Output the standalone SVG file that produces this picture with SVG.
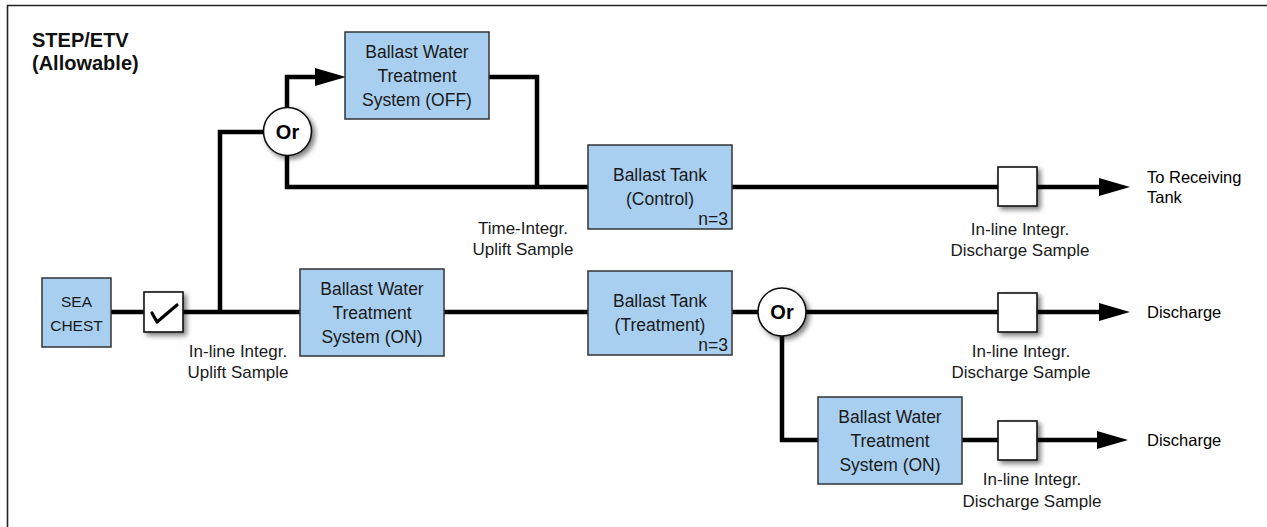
<svg xmlns="http://www.w3.org/2000/svg" width="1267" height="527" viewBox="0 0 1267 527">
<defs>
<style>
.box{fill:#a8cff0;stroke:#333;stroke-width:1.5}
.sq{fill:#fff;stroke:#111;stroke-width:1.6;filter:url(#sh)}
.orc{fill:#fff;stroke:#111;stroke-width:1.6;filter:url(#sh)}
.t{font-family:"Liberation Sans",Arial,sans-serif;font-size:17.5px;fill:#1a1a1a;text-anchor:middle}
.lb{font-family:"Liberation Sans",Arial,sans-serif;font-size:17px;fill:#1a1a1a;text-anchor:middle}
.rt{font-family:"Liberation Sans",Arial,sans-serif;font-size:16.5px;fill:#000}
.or{font-family:"Liberation Sans",Arial,sans-serif;font-size:20px;font-weight:bold;fill:#000;text-anchor:middle}
.ttl{font-family:"Liberation Sans",Arial,sans-serif;font-size:20px;font-weight:bold;fill:#111}
.ln{fill:none;stroke:#000;stroke-width:4.5;stroke-linejoin:miter}
</style>
<filter id="sh" x="-30%" y="-30%" width="170%" height="170%">
<feDropShadow dx="3" dy="3" stdDeviation="2.5" flood-color="#000" flood-opacity="0.5"/>
</filter>
<marker id="arr" markerUnits="userSpaceOnUse" markerWidth="31" markerHeight="18" refX="0" refY="9" orient="auto">
<path d="M0,0 L31,9 L0,18 z" fill="#000"/>
</marker>
</defs>
<rect width="1267" height="527" fill="#fff"/>
<path d="M7.5,527 V5.5 H1267" fill="none" stroke="#222" stroke-width="1.6"/>

<g id="title">
<text class="ttl" x="32" y="47">STEP/ETV</text>
<text class="ttl" x="32" y="70">(Allowable)</text>
</g>

<g id="connectors">
<path class="ln" d="M111,312 H144"/>
<path class="ln" d="M183,312 H300"/>
<path class="ln" d="M220,312 V132 H264"/>
<path class="ln" d="M287,108 V77 H315" marker-end="url(#arr)"/>
<path class="ln" d="M287,155 V187 H588"/>
<path class="ln" d="M489,77 H537 V187"/>
<path class="ln" d="M732,187 H998"/>
<path class="ln" d="M1037,187 H1099" marker-end="url(#arr)"/>
<path class="ln" d="M444,312 H588"/>
<path class="ln" d="M732,312 H758"/>
<path class="ln" d="M806,312 H998"/>
<path class="ln" d="M1037,312 H1099" marker-end="url(#arr)"/>
<path class="ln" d="M782,336 V440 H818"/>
<path class="ln" d="M962,440 H998"/>
<path class="ln" d="M1037,440 H1097" marker-end="url(#arr)"/>
</g>

<g id="sea-chest">
<rect class="box" x="42" y="278" width="69" height="69"/>
<text class="t" style="font-size:15.5px" x="76.5" y="307">SEA</text>
<text class="t" style="font-size:15.5px" x="76.5" y="331">CHEST</text>
</g>

<g id="check-valve">
<rect class="sq" x="144" y="292" width="39" height="40"/>
<path d="M152,313 L157,322 L177,305" fill="none" stroke="#000" stroke-width="3.2" stroke-linecap="round" stroke-linejoin="round"/>
</g>

<g id="uplift-label">
<text class="lb" x="238" y="357">In-line Integr.</text>
<text class="lb" x="238" y="378">Uplift Sample</text>
</g>

<g id="or-top">
<circle class="orc" cx="287.5" cy="131.5" r="24"/>
<text class="or" x="287.5" y="138.5">Or</text>
</g>

<g id="bwts-off">
<rect class="box" x="345" y="32" width="144" height="87"/>
<text class="t" x="417" y="58">Ballast Water</text>
<text class="t" x="417" y="82">Treatment</text>
<text class="t" x="417" y="106">System (OFF)</text>
</g>

<g id="time-label">
<text class="lb" x="523" y="234">Time-Integr.</text>
<text class="lb" x="523" y="255">Uplift Sample</text>
</g>

<g id="tank-control">
<rect class="box" x="588" y="145" width="144" height="84"/>
<text class="t" x="660" y="181">Ballast Tank</text>
<text class="t" x="660" y="205">(Control)</text>
<text class="t" style="text-anchor:end" x="728" y="225">n=3</text>
</g>

<g id="bwts-on">
<rect class="box" x="300" y="269" width="144" height="87"/>
<text class="t" x="372" y="295">Ballast Water</text>
<text class="t" x="372" y="319">Treatment</text>
<text class="t" x="372" y="343">System (ON)</text>
</g>

<g id="tank-treatment">
<rect class="box" x="588" y="271" width="144" height="84"/>
<text class="t" x="660" y="307">Ballast Tank</text>
<text class="t" x="660" y="331">(Treatment)</text>
<text class="t" style="text-anchor:end" x="728" y="351">n=3</text>
</g>

<g id="or-bottom">
<circle class="orc" cx="782" cy="312" r="24"/>
<text class="or" x="782" y="319">Or</text>
</g>

<g id="bwts-on-2">
<rect class="box" x="818" y="397" width="144" height="87"/>
<text class="t" x="890" y="423">Ballast Water</text>
<text class="t" x="890" y="447">Treatment</text>
<text class="t" x="890" y="471">System (ON)</text>
</g>

<g id="sample-1">
<rect class="sq" x="998" y="167" width="39" height="39"/>
<text class="lb" x="1020" y="235">In-line Integr.</text>
<text class="lb" x="1020" y="256">Discharge Sample</text>
</g>

<g id="sample-2">
<rect class="sq" x="998" y="293" width="39" height="39"/>
<text class="lb" x="1021" y="357">In-line Integr.</text>
<text class="lb" x="1021" y="378">Discharge Sample</text>
</g>

<g id="sample-3">
<rect class="sq" x="998" y="421" width="39" height="39"/>
<text class="lb" x="1032" y="485">In-line Integr.</text>
<text class="lb" x="1032" y="507">Discharge Sample</text>
</g>

<g id="out-receiving">
<text class="rt" x="1147" y="183">To Receiving</text>
<text class="rt" x="1147" y="203">Tank</text>
</g>
<g id="out-discharge-1">
<text class="rt" x="1147" y="318">Discharge</text>
</g>
<g id="out-discharge-2">
<text class="rt" x="1147" y="446">Discharge</text>
</g>
</svg>
